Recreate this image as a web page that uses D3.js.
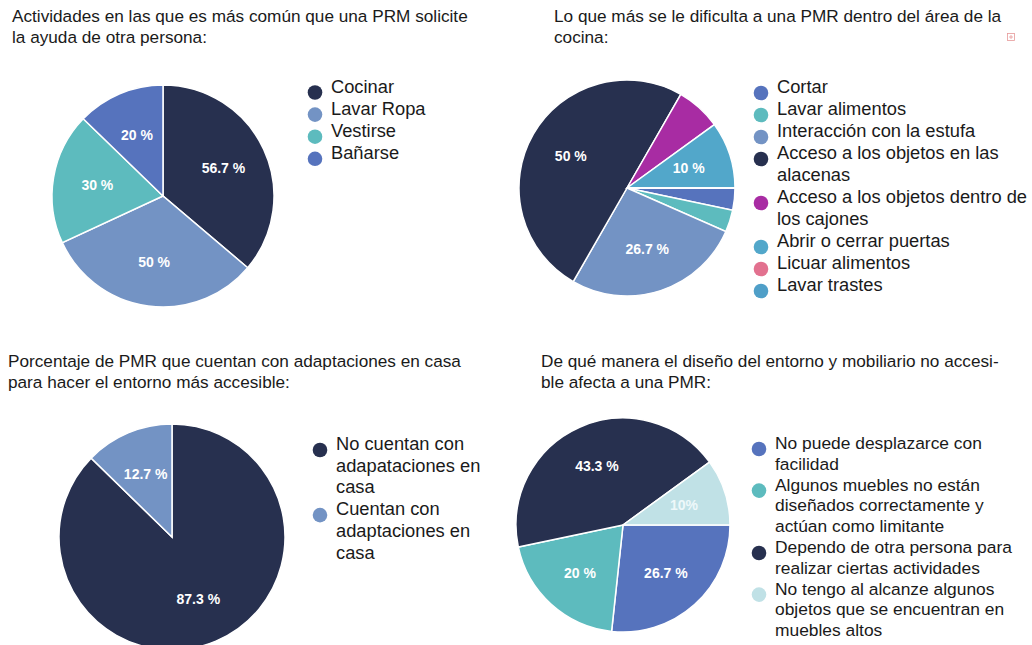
<!DOCTYPE html>
<html>
<head>
<meta charset="utf-8">
<script src="https://cdn.jsdelivr.net/npm/d3@7/dist/d3.min.js"></script>
<style>
  body { margin: 0; background: #fff; }
  svg text { font-family: "Liberation Sans", Arial, sans-serif; }
</style>
</head>
<body>
<svg id="chart" width="1032" height="645"></svg>
<script>
// --- datos ---
var actTitle = "Actividades en las que es más común que una PRM solicite\nla ayuda de otra persona:";
var actCats = ["Cocinar", "Lavar Ropa", "Vestirse", "Bañarse"];
var actVals = [56.7, 50, 30, 20];
var actLabels = ["56.7 %", "50 %", "30 %", "20 %"];

var cocTitle = "Lo que más se le dificulta a una PMR dentro del área de la\ncocina:";
var cocCats = ["Cortar", "Lavar alimentos", "Interacción con la estufa",
  "Acceso a los objetos en las\nalacenas", "Acceso a los objetos dentro de\nlos cajones",
  "Abrir o cerrar puertas", "Licuar alimentos", "Lavar trastes"];
var cocVals = [3.3, 3.3, 26.7, 50, 6.7, 10, 0, 0];
var cocLabels = ["", "", "26.7 %", "50 %", "", "10 %", "", ""];

var adaTitle = "Porcentaje de PMR que cuentan con adaptaciones en casa\npara hacer el entorno más accesible:";
var adaCats = ["No cuentan con\nadapataciones en\ncasa", "Cuentan con\nadaptaciones en\ncasa"];
var adaVals = [87.3, 12.7];
var adaLabels = ["87.3 %", "12.7 %"];

var disTitle = "De qué manera el diseño del entorno y mobiliario no accesi-\nble afecta a una PMR:";
var disCats = ["No puede desplazarce con\nfacilidad",
  "Algunos muebles no están\ndiseñados correctamente y\nactúan como limitante",
  "Dependo de otra persona para\nrealizar ciertas actividades",
  "No tengo al alcanze algunos\nobjetos que se encuentran en\nmuebles altos"];
var disVals = [26.7, 20, 43.3, 10];
var disLabels = ["26.7 %", "20 %", "43.3 %", "10%"];

// --- colores ---
var navy = "#27304f", lilac = "#7393c4", teal = "#5dbbbe", blue = "#5673bd";
var actColors = [navy, lilac, teal, blue];
var cocColors = [blue, teal, lilac, navy, "#a82ca3", "#52a7ca", "#e2718f", "#4f9fc8"];
var adaColors = [navy, lilac];
var disColors = [blue, teal, navy, "#c0e1e6"];

var panels = [
  { title: actTitle, cats: actCats, vals: actVals, labels: actLabels, colors: actColors,
    tx: 12, ty: 22, cx: 163, cy: 196, r: 111, start: 0, lx: 315, ly: 92.5, lh: 22.1, fs: 18.3 },
  { title: cocTitle, cats: cocCats, vals: cocVals, labels: cocLabels, colors: cocColors,
    tx: 554, ty: 22, cx: 627, cy: 188, r: 108, start: Math.PI / 2, lx: 761, ly: 93, lh: 22, fs: 18.3 },
  { title: adaTitle, cats: adaCats, vals: adaVals, labels: adaLabels, colors: adaColors,
    tx: 8, ty: 367, cx: 172, cy: 537, r: 113, start: 0, lx: 320, ly: 450, lh: 21.7, fs: 18.3 },
  { title: disTitle, cats: disCats, vals: disVals, labels: disLabels, colors: disColors,
    tx: 541, ty: 367, cx: 623, cy: 525, r: 107, start: Math.PI / 2, lx: 759, ly: 449, lh: 20.8, fs: 17.4 }
];

var svg = d3.select("#chart");

panels.forEach(function(p) {
  var g = svg.append("g");

  // titulo
  var t = g.append("text").attr("x", p.tx).attr("y", p.ty)
    .attr("font-size", 17.2).attr("fill", "#1a1a1a");
  p.title.split("\n").forEach(function(line, i) {
    t.append("tspan").attr("x", p.tx).attr("dy", i ? 21 : 0).text(line);
  });

  var pie = d3.pie().sort(null).value(function(d) { return d; })
    .startAngle(p.start).endAngle(p.start + 2 * Math.PI);
  var arc = d3.arc().innerRadius(0).outerRadius(p.r);
  var labelArc = d3.arc().innerRadius(p.r * 0.6).outerRadius(p.r * 0.6);
  var color = d3.scaleOrdinal().domain(d3.range(p.vals.length)).range(p.colors);

  var pg = g.append("g").attr("transform", "translate(" + p.cx + "," + p.cy + ")");
  var arcs = pie(p.vals);

  pg.selectAll("path").data(arcs).enter().append("path")
    .attr("d", arc)
    .attr("fill", function(d, i) { return color(i); })
    .attr("stroke", "#fff").attr("stroke-width", 1.5);

  pg.selectAll("text").data(arcs).enter().append("text")
    .filter(function(d, i) { return p.labels[i] !== ""; })
    .attr("transform", function(d) { return "translate(" + labelArc.centroid(d) + ")"; })
    .attr("text-anchor", "middle").attr("dy", "0.35em")
    .attr("font-size", 14).attr("font-weight", "bold")
    .attr("fill", function(d) { return d3.hsl(color(d.index)).l > 0.8 ? "#eef8fa" : "#fff"; })
    .text(function(d) { return p.labels[d.index]; });

  // leyenda
  var row = 0;
  p.cats.forEach(function(c, i) {
    var lines = c.split("\n");
    var y = p.ly + row * p.lh;
    g.append("circle").attr("cx", p.lx).attr("cy", y).attr("r", 7.3)
      .attr("fill", color(i));
    var lt = g.append("text").attr("x", p.lx + 16).attr("y", y).attr("dy", "0.35em")
      .attr("font-size", p.fs).attr("fill", "#1a1a1a");
    lines.forEach(function(line, j) {
      lt.append("tspan").attr("x", p.lx + 16).attr("dy", j ? p.lh : 0).text(line);
    });
    row += lines.length;
  });
});

// pequeño icono decorativo arriba a la derecha
var ic = svg.append("g").attr("transform", "translate(1011,37)").attr("stroke", "#e79a9a").attr("fill", "none");
ic.append("rect").attr("x", -3.5).attr("y", -3.5).attr("width", 7).attr("height", 7).attr("stroke-width", 0.8);
ic.append("path").attr("d", "M-2,0H2M0,-2V2").attr("stroke-width", 0.8);
</script>
</body>
</html>
